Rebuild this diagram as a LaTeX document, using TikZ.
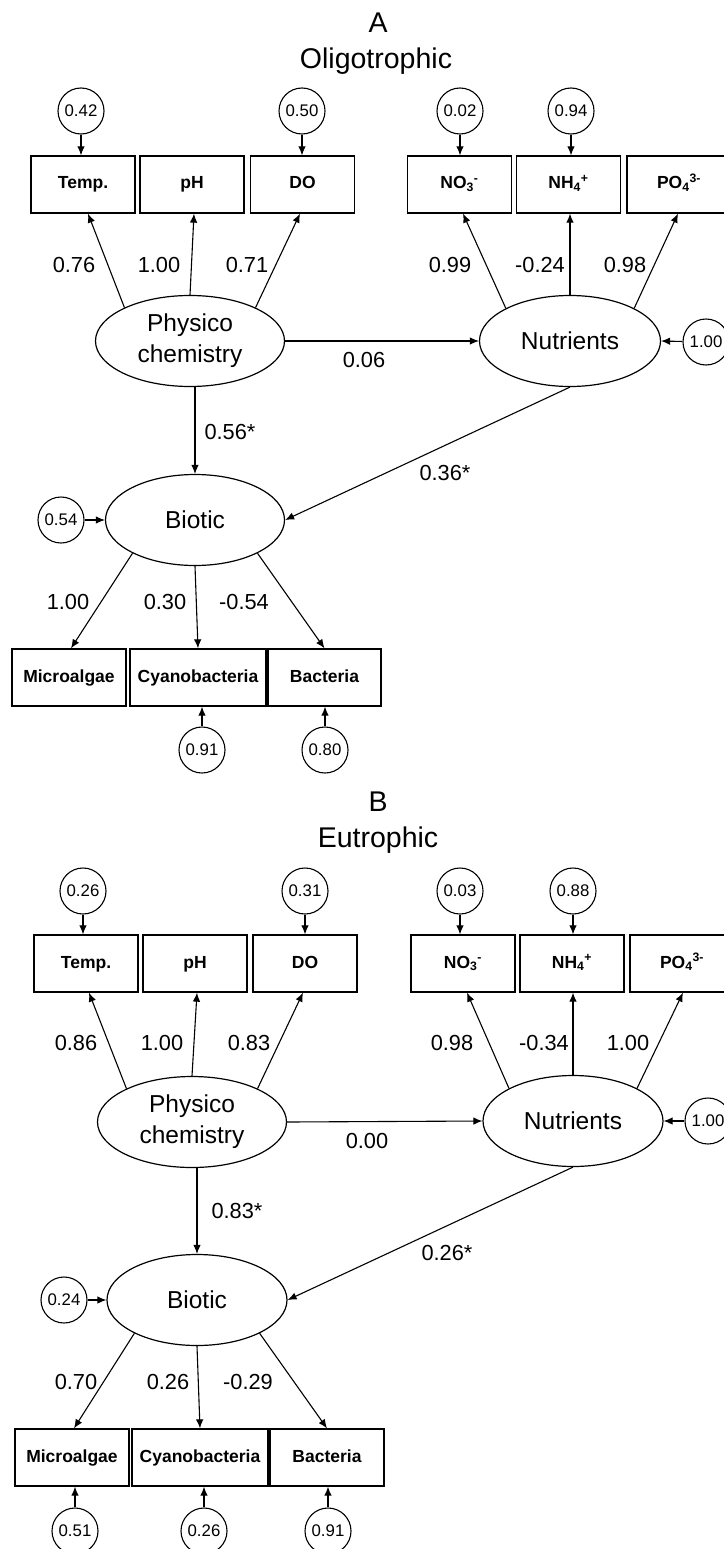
\documentclass[tikz,border=0pt]{standalone}
\usepackage{fontspec}
\setmainfont{Liberation Sans}
\usetikzlibrary{shapes.geometric,arrows.meta}

\begin{document}
\begin{tikzpicture}[x=1pt,y=-1pt,
	var/.style={draw=black, line width=1.3pt, minimum width=104pt, minimum height=57pt, inner sep=0pt, text height=12.5pt, text depth=3.5pt, font=\bfseries\fontsize{17.5}{19}\selectfont},
	latent/.style={draw=black, ellipse, line width=1.2pt, minimum height=91pt, inner sep=0pt, align=center, font=\fontsize{24.5}{31}\selectfont},
	err/.style={draw=black, circle, line width=1.1pt, minimum size=46pt, inner sep=0pt, font=\fontsize{16.8}{18}\selectfont},
	coef/.style={font=\fontsize{21.8}{24}\selectfont, inner sep=0pt},
	arr/.style={-{Latex[length=9pt,width=7.5pt]}, line width=1.1pt},
	title/.style={font=\fontsize{28.5}{32}\selectfont, anchor=base, inner sep=0pt}]
	\useasboundingbox (0,0) rectangle (723,1549);

	% A: oligotrophic
	\node[title] (headA) at (378,33) {A};
	\node[title] (nameA) at (376,68.5) {Oligotrophic};

	\node[var] (tempA) at (83,184.5) {Temp.};
	\node[var] (phA) at (192,184.5) {pH};
	\node[var] (doA) at (302.5,184.5) {DO};
	\node[var] (noA) at (459.5,184.5) {NO\textsubscript{3}\textsuperscript{-}};
	\node[var] (nhA) at (568.5,184.5) {NH\textsubscript{4}\textsuperscript{+}};
	\node[var] (poA) at (679,184.5) {PO\textsubscript{4}\textsuperscript{3-}};

	\node[err] (rTempA) at (81,111) {0.42};
	\node[err] (rDoA) at (302,111) {0.50};
	\node[err] (rNoA) at (460,111) {0.02};
	\node[err] (rNhA) at (571,111) {0.94};
	\draw[arr] (rTempA) -- (rTempA |- tempA.north);
	\draw[arr] (rDoA) -- (rDoA |- doA.north);
	\draw[arr] (rNoA) -- (rNoA |- noA.north);
	\draw[arr] (rNhA) -- (rNhA |- nhA.north);

	\node[latent, minimum width=189pt] (physA) at (190,341) {Physico\\chemistry};
	\node[latent, minimum width=181pt] (nutA) at (570,341) {Nutrients};
	\node[latent, minimum width=179pt] (bioA) at (195,520) {Biotic};
	\node[err] (rNutA) at (706,342) {1.00};
	\node[err] (rBioA) at (61,520) {0.54};
	\draw[arr] (rNutA) -- (nutA.east);
	\draw[arr] (rBioA) -- (bioA.west);

	\draw[arr] (physA.153) -- ([xshift=5pt]tempA.south);
	\draw[arr] (physA.90) -- ([xshift=2pt]phA.south);
	\draw[arr] (physA.27) -- ([xshift=-2.5pt]doA.south);
	\draw[arr] (nutA.153) -- ([xshift=3.5pt]noA.south);
	\draw[arr] (nutA.90) -- ([xshift=1.5pt]nhA.south);
	\draw[arr] (nutA.27) -- ([xshift=-1pt]poA.south);
	\node[coef] (lTempA) at (74,265) {0.76};
	\node[coef] (lPhA) at (159,265) {1.00};
	\node[coef] (lDoA) at (247,265) {0.71};
	\node[coef] (lNoA) at (450,265) {0.99};
	\node[coef] (lNhA) at (540,265) {-0.24};
	\node[coef] (lPoA) at (625,265) {0.98};

	\draw[arr] (physA.east) -- (nutA.west);
	\draw[arr] (physA.south -| bioA.north) -- (bioA.north);
	\draw[arr] (nutA.south) -- (bioA.east);
	\node[coef] (lPNA) at (364,360) {0.06};
	\node[coef] (lPBA) at (230,432) {0.56*};
	\node[coef] (lNBA) at (445,473) {0.36*};

	\node[var, minimum width=114pt] (algA) at (69,677.5) {Microalgae};
	\node[var, minimum width=136pt] (cyanoA) at (198,677.5) {Cyanobacteria};
	\node[var, minimum width=113pt] (bactA) at (324.5,677.5) {Bacteria};
	\draw[arr] (bioA.208) -- ([xshift=2pt]algA.north);
	\draw[arr] (bioA.south) -- (cyanoA.north);
	\draw[arr] (bioA.332) -- (bactA.north);
	\node[coef] (lAlgA) at (68,602) {1.00};
	\node[coef] (lCyanoA) at (165,602) {0.30};
	\node[coef] (lBactA) at (244,602) {-0.54};

	\node[err] (rCyanoA) at (202,750) {0.91};
	\node[err] (rBactA) at (325,750) {0.80};
	\draw[arr] (rCyanoA) -- (rCyanoA |- cyanoA.south);
	\draw[arr] (rBactA) -- (rBactA |- bactA.south);

	% B: eutrophic
	\node[title] (headB) at (378,811) {B};
	\node[title] (nameB) at (378,847) {Eutrophic};

	\node[var] (tempB) at (86,963.5) {Temp.};
	\node[var] (phB) at (195,963.5) {pH};
	\node[var] (doB) at (305,963.5) {DO};
	\node[var] (noB) at (463,963.5) {NO\textsubscript{3}\textsuperscript{-}};
	\node[var] (nhB) at (572,963.5) {NH\textsubscript{4}\textsuperscript{+}};
	\node[var] (poB) at (682,963.5) {PO\textsubscript{4}\textsuperscript{3-}};

	\node[err] (rTempB) at (83,891) {0.26};
	\node[err] (rDoB) at (305,891) {0.31};
	\node[err] (rNoB) at (460,891) {0.03};
	\node[err] (rNhB) at (573,891) {0.88};
	\draw[arr] (rTempB) -- (rTempB |- tempB.north);
	\draw[arr] (rDoB) -- (rDoB |- doB.north);
	\draw[arr] (rNoB) -- (rNoB |- noB.north);
	\draw[arr] (rNhB) -- (rNhB |- nhB.north);

	\node[latent, minimum width=189pt] (physB) at (192,1122) {Physico\\chemistry};
	\node[latent, minimum width=180pt] (nutB) at (573,1121) {Nutrients};
	\node[latent, minimum width=180pt] (bioB) at (197,1300) {Biotic};
	\node[err] (rNutB) at (708,1121) {1.00};
	\node[err] (rBioB) at (64,1300) {0.24};
	\draw[arr] (rNutB) -- (nutB.east);
	\draw[arr] (rBioB) -- (bioB.west);

	\draw[arr] (physB.153) -- ([xshift=3pt]tempB.south);
	\draw[arr] (physB.90) -- ([xshift=2pt]phB.south);
	\draw[arr] (physB.27) -- ([xshift=-2pt]doB.south);
	\draw[arr] (nutB.153) -- ([xshift=4pt]noB.south);
	\draw[arr] (nutB.90) -- ([xshift=1pt]nhB.south);
	\draw[arr] (nutB.27) -- ([xshift=1pt]poB.south);
	\node[coef] (lTempB) at (76,1043) {0.86};
	\node[coef] (lPhB) at (162,1043) {1.00};
	\node[coef] (lDoB) at (249,1043) {0.83};
	\node[coef] (lNoB) at (452,1043) {0.98};
	\node[coef] (lNhB) at (544,1043) {-0.34};
	\node[coef] (lPoB) at (628,1043) {1.00};

	\draw[arr] (physB.east) -- (nutB.west);
	\draw[arr] (physB.south -| bioB.north) -- (bioB.north);
	\draw[arr] (nutB.south) -- (bioB.east);
	\node[coef] (lPNB) at (367,1141) {0.00};
	\node[coef] (lPBB) at (237,1211) {0.83*};
	\node[coef] (lNBB) at (447,1253) {0.26*};

	\node[var, minimum width=114pt] (algB) at (72,1457.5) {Microalgae};
	\node[var, minimum width=136pt] (cyanoB) at (200,1457.5) {Cyanobacteria};
	\node[var, minimum width=114pt] (bactB) at (327,1457.5) {Bacteria};
	\draw[arr] (bioB.208) -- ([xshift=2pt]algB.north);
	\draw[arr] (bioB.south) -- (cyanoB.north);
	\draw[arr] (bioB.332) -- (bactB.north);
	\node[coef] (lAlgB) at (76,1382) {0.70};
	\node[coef] (lCyanoB) at (168,1382) {0.26};
	\node[coef] (lBactB) at (248,1382) {-0.29};

	\node[err] (rAlgB) at (75,1531) {0.51};
	\node[err] (rCyanoB) at (204,1531) {0.26};
	\node[err] (rBactB) at (328,1531) {0.91};
	\draw[arr] (rAlgB) -- (rAlgB |- algB.south);
	\draw[arr] (rCyanoB) -- (rCyanoB |- cyanoB.south);
	\draw[arr] (rBactB) -- (rBactB |- bactB.south);
\end{tikzpicture}
\end{document}
